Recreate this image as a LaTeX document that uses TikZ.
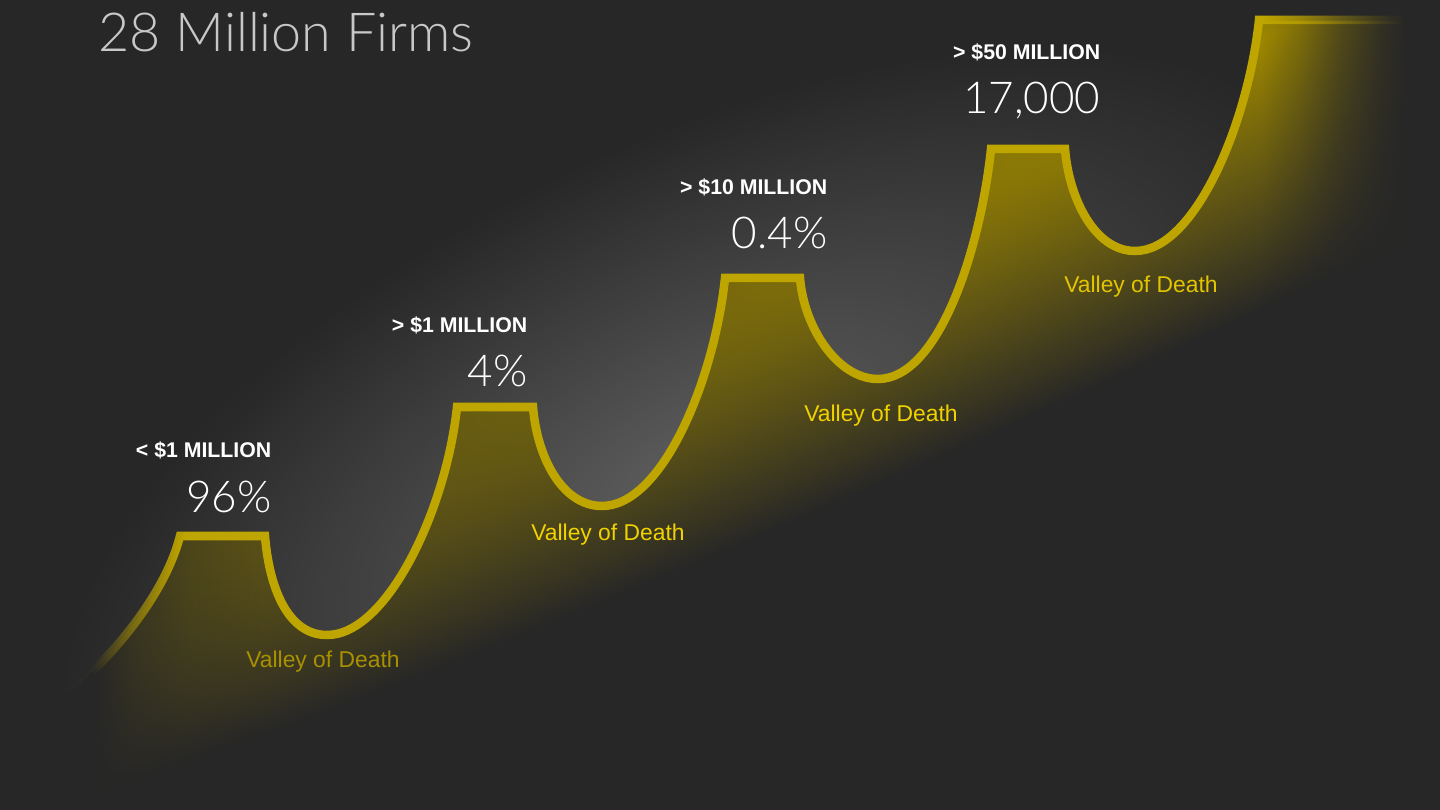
\documentclass[tikz,border=0pt]{standalone}
\usepackage{fontspec}
\setmainfont{Liberation Sans}
\IfFontExistsTF{Lato Light}
  {\newfontfamily\thinfont{Lato Light}}
  {\newfontfamily\thinfont{Liberation Sans}}
\usetikzlibrary{fadings}

\definecolor{bgdark}{HTML}{272727}
\definecolor{glowcore}{HTML}{5E5E5E}
\definecolor{stairgold}{HTML}{BFA500}
\definecolor{stairolive}{HTML}{9E8800}
\definecolor{titlegrey}{HTML}{C8C8C8}
\definecolor{valleydim}{HTML}{A89100}
\definecolor{valleygold}{HTML}{F0D200}
\definecolor{valleysoft}{HTML}{E2C500}

% soft ends of the staircase
\pgfdeclarehorizontalshading{stairendsshade}{8.1cm}{color(0cm)=(pgftransparent); color(0.92cm)=(pgftransparent); color(1.3cm)=(pgftransparent!55); color(1.85cm)=(pgftransparent!0); color(12.62cm)=(pgftransparent!0); color(13cm)=(pgftransparent!25); color(13.4cm)=(pgftransparent!60); color(13.8cm)=(pgftransparent!88); color(14.05cm)=(pgftransparent); color(14.4cm)=(pgftransparent)}
\pgfdeclarefading{stairends}{\pgfuseshading{stairendsshade}}
% dark at both ends (to hide the gold there)
\pgfdeclarehorizontalshading{stairedgesshade}{8.1cm}{color(0cm)=(pgftransparent!0); color(0.95cm)=(pgftransparent!0); color(1.35cm)=(pgftransparent!45); color(1.9cm)=(pgftransparent!80); color(2.6cm)=(pgftransparent); color(12.62cm)=(pgftransparent); color(13cm)=(pgftransparent!75); color(13.4cm)=(pgftransparent!40); color(13.8cm)=(pgftransparent!12); color(14.05cm)=(pgftransparent!0); color(14.4cm)=(pgftransparent!0)}
\pgfdeclarefading{stairedges}{\pgfuseshading{stairedgesshade}}
% round spot, stretched where it is used
\pgfdeclareradialshading{softspotshade}{\pgfpointorigin}{color(0cm)=(pgftransparent!0); color(1cm)=(pgftransparent); color(1.5cm)=(pgftransparent)}
\pgfdeclarefading{softspot}{\pgfuseshading{softspotshade}}

\newcommand\stairpath{(70,690) .. controls (110,660) and (165,595) .. (180,536) -- (265,536)
  .. controls +(4,50) and +(-40,0) .. (327,635)
  .. controls +(60,0) and +(-11,103) .. (457,407) -- (533,407)
  .. controls +(4,50) and +(-40,0) .. (602,506)
  .. controls +(60,0) and +(-11,103) .. (725,278) -- (800,278)
  .. controls +(4,50) and +(-40,0) .. (878,379)
  .. controls +(60,0) and +(-11,103) .. (991,149) -- (1065,149)
  .. controls +(4,50) and +(-40,0) .. (1135,251)
  .. controls +(60,0) and +(-11,103) .. (1259,20) -- (1425,20)}

\begin{document}
\begin{tikzpicture}[
    x=0.01cm, y=-0.01cm,
    stairline/.style={draw=stairgold, line width=0.085cm, path fading=stairends, fit fading=false, fading transform={shift={(720,405)}}},
    stairfill/.style={fill=stairolive, path fading=softspot, fit fading=false, fading transform={shift={(1290,25)}, rotate=25.8, xscale=20, yscale=2.45}},
    stairshade/.style={fill=bgdark, path fading=stairedges, fit fading=false, fading transform={shift={(720,405)}}},
    roomglow/.style={fill=glowcore, path fading=softspot, fit fading=false, fading transform={shift={(700,470)}, rotate=26, xscale=7, yscale=3.3}},
    titletext/.style={anchor=base west, inner sep=0pt, text=titlegrey, font=\thinfont\fontsize{15.3}{18}\selectfont},
    sharetext/.style={anchor=base east, inner sep=0pt, text=white, font=\thinfont\fontsize{12.5}{15}\selectfont},
    bandtext/.style={anchor=base east, inner sep=0pt, text=white, font=\bfseries\fontsize{6.05}{7}\selectfont},
    valleytext/.style={anchor=base, inner sep=0pt, font=\fontsize{6.5}{8}\selectfont}
]
\fill[bgdark] (0,0) rectangle (1440,810);
% light above the steps only
\begin{scope}
  \clip \stairpath -- (1440,20) -- (1440,0) -- (0,0) -- (0,810) -- (70,810) -- cycle;
  \fill[roomglow] (0,0) rectangle (1440,810);
\end{scope}

% the staircase
\fill[stairfill] \stairpath -- (1440,20) -- (1440,810) -- (70,810) -- cycle;
\fill[stairshade] \stairpath -- (1440,20) -- (1440,810) -- (0,810) -- (0,690) -- cycle;
\draw[stairline] \stairpath;

\node[titletext] (title) at (98,52) {28 Million Firms};

\node[sharetext] (share1) at (272,512) {96\%};
\node[sharetext] (share2) at (528,387) {4\%};
\node[sharetext] (share3) at (828,249) {0.4\%};
\node[sharetext] (share4) at (1101,114) {17,000};

\node[bandtext] (band1) at ([yshift=0.54cm]share1.base east) {< \$1 MILLION};
\node[bandtext] (band2) at ([yshift=0.54cm]share2.base east) {> \$1 MILLION};
\node[bandtext] (band3) at ([yshift=0.54cm]share3.base east) {> \$10 MILLION};
\node[bandtext] (band4) at ([yshift=0.54cm]share4.base east) {> \$50 MILLION};

\node[valleytext, text=valleydim] (valley1) at (323,667) {Valley of Death};
\node[valleytext, text=valleygold] (valley2) at (608,541) {Valley of Death};
\node[valleytext, text=valleygold] (valley3) at (881,422) {Valley of Death};
\node[valleytext, text=valleysoft] (valley4) at (1141,293) {Valley of Death};
\end{tikzpicture}
\end{document}
